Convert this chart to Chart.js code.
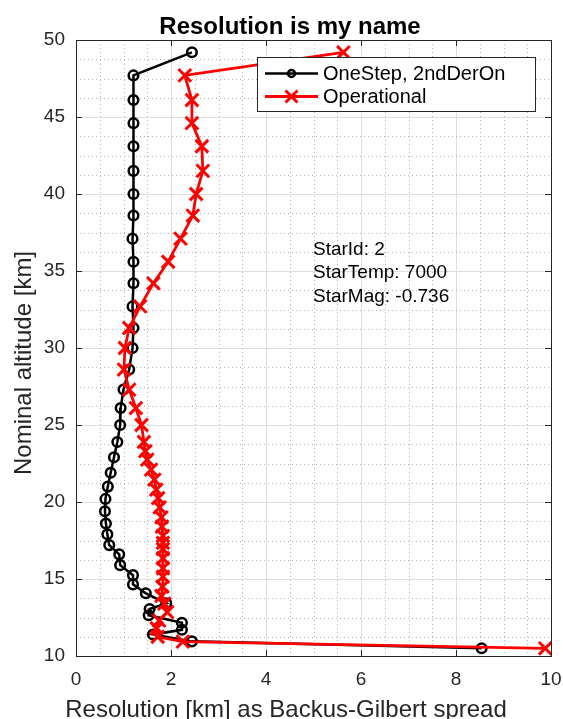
<!DOCTYPE html>
<html>
<head>
<meta charset="utf-8">
<script src="https://cdn.jsdelivr.net/npm/chart.js@4"></script>
<style>
  html, body { margin: 0; padding: 0; background: #fff; }
  #wrap { width: 563px; height: 719px; position: relative; }
</style>
</head>
<body>
<div id="wrap"><canvas id="chart"></canvas></div>
<script>
// ---- data ----
const blackAlt = [49.2, 47.7, 46.1, 44.6, 43.1, 41.5, 40.0, 38.6, 37.1, 35.6, 34.2, 32.7, 31.3, 30.0,
  28.6, 27.3, 26.1, 25.0, 23.9, 22.9, 21.9, 21.0, 20.2, 19.4, 18.6, 17.9, 17.2, 16.6, 15.9,
  15.25, 14.65, 14.07, 13.42, 13.05, 12.65, 12.16, 11.7, 11.4, 10.95, 10.5];
const blackRes = [2.44, 1.21, 1.21, 1.21, 1.21, 1.21, 1.21, 1.21, 1.19, 1.21, 1.21, 1.19, 1.21, 1.19,
  1.12, 1.0, 0.94, 0.93, 0.87, 0.8, 0.73, 0.67, 0.62, 0.61, 0.63, 0.66, 0.7, 0.91, 0.93,
  1.2, 1.2, 1.47, 1.9, 1.55, 1.53, 2.23, 2.23, 1.62, 2.44, 8.54];

const redAlt = [49.2, 47.7, 46.1, 44.6, 43.1, 41.5, 40.0, 38.6, 37.1, 35.6, 34.2, 32.7, 31.3, 30.0,
  28.6, 27.3, 26.1, 25.0, 23.9, 23.3, 22.75, 22.1, 21.45, 20.8, 20.25, 19.65, 19.0, 18.4, 17.8,
  17.35, 16.95, 16.35, 15.7, 15.15, 14.5, 13.9, 13.4, 12.85, 12.3, 11.8, 11.25, 10.93, 10.5];
const redRes = [5.63, 2.29, 2.44, 2.44, 2.65, 2.67, 2.53, 2.46, 2.2, 1.94, 1.63, 1.35, 1.12, 1.03,
  1.01, 1.12, 1.26, 1.38, 1.43, 1.46, 1.5, 1.58, 1.65, 1.69, 1.73, 1.76, 1.8, 1.81, 1.83,
  1.83, 1.83, 1.83, 1.83, 1.83, 1.82, 1.8, 1.86, 1.92, 1.75, 1.7, 1.72, 2.25, 9.88];

const seriesNames = ["OneStep, 2ndDerOn", "Operational"];
const infoLines = ["StarId: 2", "StarTemp: 7000", "StarMag: -0.736"];
const titleText = "Resolution is my name";
const xTitle = "Resolution [km] as Backus-Gilbert spread";
const yTitle = "Nominal altitude [km]";

const xTicks = [0, 2, 4, 6, 8, 10];
const yTicks = [10, 15, 20, 25, 30, 35, 40, 45, 50];

const FONT = "'Liberation Sans', Arial, Helvetica, sans-serif";
const AXC = "#262626";

const toPts = (xs, ys) => xs.map((v, i) => ({ x: v, y: ys[i] }));

// minor dotted grid, box, inner ticks, legend and texts
const extras = {
  id: "extras",
  beforeDatasetsDraw(chart) {
    const { ctx, chartArea: a, scales: { x, y } } = chart;
    ctx.save();
    ctx.strokeStyle = "#b4b4b4";
    ctx.lineWidth = 1;
    ctx.setLineDash([1, 3]);
    for (let v = 0.5; v < 10; v += 0.5) {
      if (v % 2 === 0) continue;
      const px = Math.round(x.getPixelForValue(v)) + 0.5;
      ctx.beginPath(); ctx.moveTo(px, a.top); ctx.lineTo(px, a.bottom); ctx.stroke();
    }
    for (let v = 11.25; v < 50; v += 1.25) {
      if (v % 5 === 0) continue;
      const py = Math.round(y.getPixelForValue(v)) + 0.5;
      ctx.beginPath(); ctx.moveTo(a.left, py); ctx.lineTo(a.right, py); ctx.stroke();
    }
    ctx.restore();
  },
  afterDraw(chart) {
    const { ctx, chartArea: a, scales: { x, y } } = chart;
    ctx.save();
    // box
    ctx.strokeStyle = AXC;
    ctx.lineWidth = 1;
    ctx.strokeRect(Math.round(a.left) + 0.5, Math.round(a.top) + 0.5,
      Math.round(a.right - a.left), Math.round(a.bottom - a.top));
    // inward ticks
    const tl = 6;
    ctx.beginPath();
    xTicks.forEach(v => {
      const px = Math.round(x.getPixelForValue(v)) + 0.5;
      ctx.moveTo(px, a.bottom); ctx.lineTo(px, a.bottom - tl);
      ctx.moveTo(px, a.top); ctx.lineTo(px, a.top + tl);
    });
    yTicks.forEach(v => {
      const py = Math.round(y.getPixelForValue(v)) + 0.5;
      ctx.moveTo(a.left, py); ctx.lineTo(a.left + tl, py);
      ctx.moveTo(a.right, py); ctx.lineTo(a.right - tl, py);
    });
    ctx.stroke();

    // legend
    const lx = 257, ly = 57, lw = 278, lh = 54;
    ctx.fillStyle = "#fff";
    ctx.fillRect(lx, ly, lw, lh);
    ctx.strokeStyle = AXC;
    ctx.strokeRect(lx + 0.5, ly + 0.5, lw, lh);
    const rows = [73.5, 96.5];
    chart.data.datasets.forEach((ds, i) => {
      const ry = rows[i];
      ctx.strokeStyle = ds.borderColor;
      ctx.lineWidth = ds.borderWidth;
      ctx.beginPath(); ctx.moveTo(265, ry); ctx.lineTo(318, ry); ctx.stroke();
      ctx.lineWidth = ds.pointBorderWidth;
      ctx.beginPath();
      if (ds.pointStyle === "circle") {
        ctx.arc(291.5, ry, 3.5, 0, Math.PI * 2);
      } else {
        const d = 6;
        ctx.moveTo(291.5 - d, ry - d); ctx.lineTo(291.5 + d, ry + d);
        ctx.moveTo(291.5 - d, ry + d); ctx.lineTo(291.5 + d, ry - d);
      }
      ctx.stroke();
      ctx.fillStyle = "#000";
      ctx.font = "20px " + FONT;
      ctx.textBaseline = "middle";
      ctx.textAlign = "left";
      ctx.fillText(ds.label, 323, ry + 1);
    });

    // info text
    ctx.fillStyle = "#000";
    ctx.font = "19px " + FONT;
    ctx.textBaseline = "alphabetic";
    infoLines.forEach((t, i) => ctx.fillText(t, 313, 255 + i * 23.3));

    // title
    ctx.font = "bold 24px " + FONT;
    ctx.textAlign = "center";
    ctx.fillText(titleText, 290, 34);

    // axis titles
    ctx.fillStyle = AXC;
    ctx.font = "24px " + FONT;
    ctx.fillText(xTitle, 286, 717);
    ctx.translate(31, 363);
    ctx.rotate(-Math.PI / 2);
    ctx.fillText(yTitle, 0, 0);
    ctx.restore();
  }
};

const chart = new Chart(document.getElementById("chart"), {
  type: "scatter",
  data: {
    datasets: [
      {
        label: seriesNames[0],
        data: toPts(blackRes, blackAlt),
        showLine: true,
        borderColor: "#000",
        borderWidth: 2.5,
        pointStyle: "circle",
        pointRadius: 4.8,
        pointBorderWidth: 2.5,
        pointBorderColor: "#000",
        pointBackgroundColor: "rgba(0,0,0,0)",
        order: 1
      },
      {
        label: seriesNames[1],
        data: toPts(redRes, redAlt),
        showLine: true,
        borderColor: "#ff0000",
        borderWidth: 2.8,
        pointStyle: "crossRot",
        pointRadius: 9,
        pointBorderWidth: 3,
        pointBorderColor: "#ff0000",
        pointBackgroundColor: "#ff0000",
        order: 0
      }
    ]
  },
  options: {
    responsive: true,
    maintainAspectRatio: false,
    animation: false,
    layout: { padding: { left: 0, right: 11, top: 40, bottom: 0 } },
    plugins: {
      legend: { display: false },
      tooltip: { enabled: false },
      title: { display: false }
    },
    elements: { line: { tension: 0 } },
    scales: {
      x: {
        type: "linear",
        min: 0, max: 10,
        afterFit: s => { s.height = 63; s.paddingLeft = 0; s.paddingRight = 0; },
        afterBuildTicks: s => { s.ticks = xTicks.map(v => ({ value: v })); },
        ticks: { color: AXC, font: { family: FONT, size: 19 }, padding: 12 },
        grid: { color: "#dedede", lineWidth: 1, drawTicks: false },
        border: { color: AXC, width: 1 }
      },
      y: {
        type: "linear",
        min: 10, max: 50,
        afterFit: s => { s.width = 76; s.paddingTop = 0; s.paddingBottom = 0; },
        afterBuildTicks: s => { s.ticks = yTicks.map(v => ({ value: v })); },
        ticks: { color: AXC, font: { family: FONT, size: 19 }, padding: 11 },
        grid: { color: "#dedede", lineWidth: 1, drawTicks: false },
        border: { color: AXC, width: 1 }
      }
    }
  },
  plugins: [extras]
});
</script>
</body>
</html>
